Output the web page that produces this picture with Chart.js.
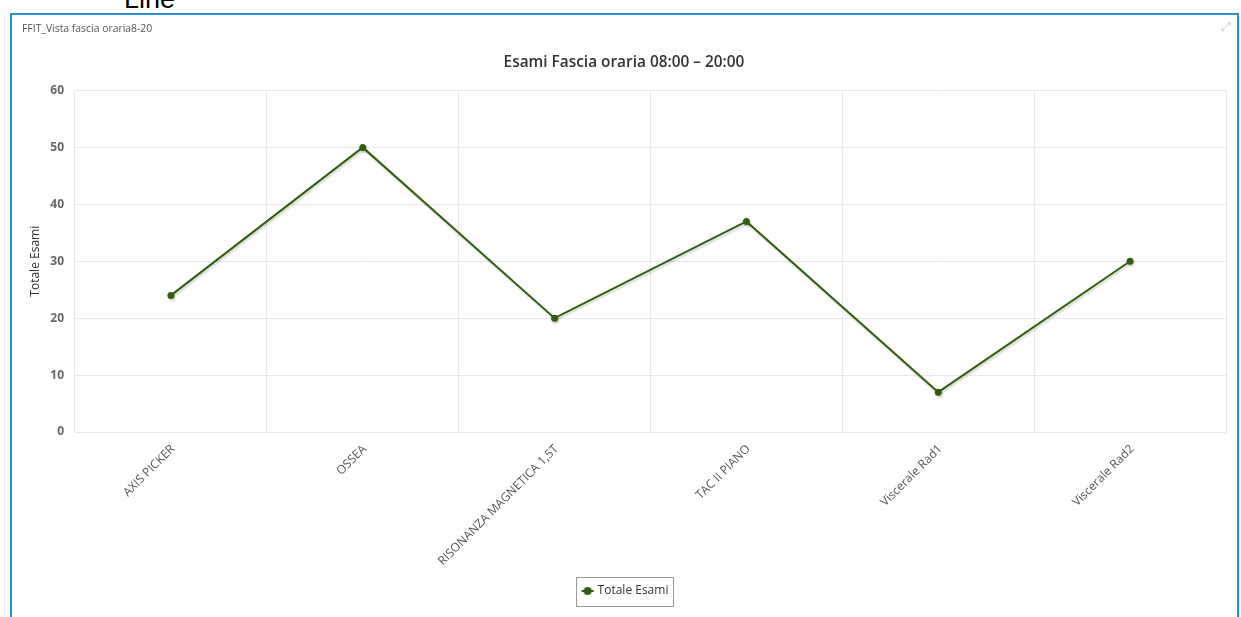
<!DOCTYPE html>
<html>
<head>
<meta charset="utf-8">
<script src="https://cdn.jsdelivr.net/npm/chart.js@4.4.1/dist/chart.umd.min.js"></script>
<style>
  html, body { margin:0; padding:0; background:#fff; overflow:hidden; }
  body { width:1241px; height:617px; position:relative; font-family:"Open Sans", sans-serif; }
  .page-title { position:absolute; left:124px; top:-14px; font:27px/26px "Liberation Sans", Arial, sans-serif; color:#000; }
  .side-line { position:absolute; left:4px; top:15px; width:1px; height:602px; background:#ececec; }
  .panel { position:absolute; left:10px; top:13px; width:1225px; height:620px; border:2px solid #2f8fd4; border-bottom:none; background:#fff; }
  .panel-title { position:absolute; left:10px; top:6px; font-size:10.4px; color:#555; }
  .expand { position:absolute; right:6px; top:4px; font:13px "DejaVu Sans", sans-serif; color:#cfcfcf; }
  .chart-wrap { position:absolute; left:0; top:0; width:1224px; height:602px; }
</style>
</head>
<body>
<div class="page-title">Line</div>
<div class="side-line"></div>
<div class="panel">
  <div class="chart-wrap"><canvas id="c-esami"></canvas></div>
  <div class="panel-title">FFIT_Vista fascia oraria8-20</div>
  <div class="expand">⤢</div>
</div>

<script>
// Data
const categories  = ['AXIS PICKER', 'OSSEA', 'RISONANZA MAGNETICA 1,5T', 'TAC II PIANO', 'Viscerale Rad1', 'Viscerale Rad2'];
const totaleEsami = [24, 50, 20, 37, 7, 30];
const yMin = 0, yMax = 60, yStep = 10;

const GREEN = '#325e10';

// legend icon: short line with a dot, drawn a bit right of the box centre
function legendIcon() {
  const c = document.createElement('canvas');
  c.width = 20; c.height = 10;
  const g = c.getContext('2d');
  g.strokeStyle = GREEN; g.lineWidth = 2;
  g.beginPath(); g.moveTo(6, 5); g.lineTo(18, 5); g.stroke();
  g.fillStyle = GREEN;
  g.beginPath(); g.arc(12, 5, 4, 0, Math.PI * 2); g.fill();
  return c;
}

// soft shadow under the line + box round the legend
const extras = {
  id: 'extras',
  beforeDatasetsDraw(chart) {
    const ctx = chart.ctx;
    ctx.save();
    ctx.shadowColor = 'rgba(0,0,0,0.18)';
    ctx.shadowOffsetX = 1;
    ctx.shadowOffsetY = 2;
    ctx.shadowBlur = 2;
  },
  afterDatasetsDraw(chart) { chart.ctx.restore(); },
  afterDraw(chart) {
    const hb = chart.legend && chart.legend.legendHitBoxes && chart.legend.legendHitBoxes[0];
    if (!hb) return;
    const ctx = chart.ctx;
    ctx.save();
    ctx.strokeStyle = '#999';
    ctx.lineWidth = 1;
    ctx.strokeRect(Math.round(hb.left - 4) + 0.5, Math.round(hb.top - 8) + 0.5, Math.round(hb.width + 8), Math.round(hb.height + 17));
    ctx.restore();
  }
};

new Chart(document.getElementById('c-esami'), {
  type: 'line',
  data: {
    labels: categories,
    datasets: [{
      label: 'Totale Esami',
      data: totaleEsami,
      borderColor: GREEN, backgroundColor: GREEN,
      borderWidth: 2, tension: 0, fill: false,
      pointRadius: 3.5, pointBackgroundColor: GREEN, pointBorderWidth: 0
    }]
  },
  options: {
    responsive: true, maintainAspectRatio: false, animation: false,
    layout: { padding: { left: 10, right: 10, top: 0, bottom: 10 } },
    plugins: {
      title: {
        display: true, text: 'Esami Fascia oraria 08:00 – 20:00',
        color: '#333', font: { family: 'Open Sans', size: 15.4, weight: '600' },
        padding: { top: 38, bottom: 19 }
      },
      legend: {
        position: 'bottom',
        labels: {
          color: '#333', font: { family: 'Open Sans', size: 12 },
          usePointStyle: true, padding: 10,
          generateLabels: chart => chart.data.datasets.map((ds, i) => ({
            text: ds.label, pointStyle: legendIcon(), fontColor: '#333',
            hidden: false, datasetIndex: i, lineWidth: 0
          }))
        }
      },
      tooltip: { enabled: false }
    },
    scales: {
      x: {
        offset: true,
        grid: { color: '#e8e8e8', drawTicks: false, offset: true },
        border: { display: false },
        ticks: {
          color: '#555', font: { family: 'Open Sans', size: 12 },
          minRotation: 45, maxRotation: 45, padding: 10, labelOffset: 2, autoSkip: false
        },
        afterFit: s => { s.height = 143; }
      },
      y: {
        min: yMin, max: yMax,
        grid: { color: '#e8e8e8', drawTicks: false },
        border: { display: false },
        ticks: {
          stepSize: yStep, padding: 11,
          color: '#666', font: { family: 'Open Sans', size: 12, weight: 'bold' }
        },
        title: {
          display: true, text: 'Totale Esami', color: '#333',
          font: { family: 'Open Sans', size: 12 }, padding: { top: 6, bottom: 0 }
        },
        afterFit: s => { s.width = 53; }
      }
    }
  },
  plugins: [extras]
});
</script>
</body>
</html>
